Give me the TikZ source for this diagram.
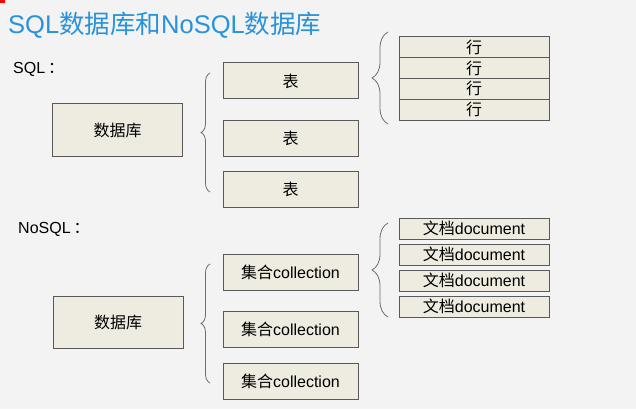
\documentclass[tikz,border=0pt]{standalone}
\usepackage{fontspec}
\setmainfont{Liberation Sans}
\newfontfamily\cjk{Noto Sans CJK SC}
\usepackage{tikz}
\usetikzlibrary{calc,decorations.pathreplacing}
\definecolor{titleblue}{RGB}{41,146,219}
\definecolor{boxfill}{RGB}{238,236,225}
\definecolor{boxline}{RGB}{89,89,89}
\definecolor{bracegray}{RGB}{110,110,110}
\definecolor{slidebg}{RGB}{243,243,243}
\tikzset{
	box/.style={draw=boxline, fill=boxfill, line width=1pt, inner sep=0pt, font=\fontsize{16}{18}\selectfont},
	dbbox/.style={box, minimum width=130pt, minimum height=52pt},
	tblbox/.style={box, minimum width=135pt, minimum height=36pt},
	rowbox/.style={box, minimum width=150pt, minimum height=20.75pt},
	docbox/.style={box, minimum width=150pt, minimum height=21pt},
	bracel/.style={draw=bracegray, line width=0.8pt, decorate, decoration={brace, amplitude=#1}},
	label/.style={anchor=base west, inner sep=0pt, font=\fontsize{16}{18}\selectfont}
}
\begin{document}
\begin{tikzpicture}[x=1pt, y=-1pt]
		\fill[slidebg] (0,0) rectangle (636,409);
		\useasboundingbox (0,0) rectangle (636,409);
		\fill[red] (0,0) rectangle (5,3);
		\node[anchor=base west, inner sep=0pt, text=titleblue, font=\fontsize{25.5}{30}\selectfont] (title) at (8,34) {SQL{\cjk 数据库和}NoSQL{\cjk 数据库}};
		% SQL
		\node[label] (sql) at (13,74) {SQL\hspace{3pt}{\cjk ：}};
		\node[dbbox] (db) at (117.5,130) {\cjk 数据库};
		\node[tblbox] (tbl1) at (290.5,81) {\cjk 表};
		\node[tblbox] (tbl2) at (290.5,138) {\cjk 表};
		\node[tblbox] (tbl3) at (290.5,189.5) {\cjk 表};
		\foreach \i in {1,...,4}
			\node[rowbox] (row\i) at (474,{37+20.75*(\i-0.5)}) {\cjk 行};
		\coordinate (b1s) at (210,192);
		\coordinate (b1n) at (210,73);
		\coordinate (b2s) at (388,124);
		\coordinate (b2n) at (388,32);
		\draw[bracel=9] (b1s) -- (b1n);
		\draw[bracel=16] (b2s) -- (b2n);
		% NoSQL
		\node[label] (nosql) at (18,233) {NoSQL\hspace{3pt}{\cjk ：}};
		\node[dbbox] (ndb) at (118,322) {\cjk 数据库};
		\node[tblbox] (coll1) at (290.5,272) {{\cjk 集合}collection};
		\node[tblbox] (coll2) at (290.5,329.5) {{\cjk 集合}collection};
		\node[tblbox] (coll3) at (290.5,381) {{\cjk 集合}collection};
		\foreach \i/\y in {1/228.5,2/254.5,3/280.5,4/306.5}
			\node[docbox] (doc\i) at (474,\y) {{\cjk 文档}document};
		\coordinate (b3s) at (210,383);
		\coordinate (b3n) at (210,264);
		\coordinate (b4s) at (388,317);
		\coordinate (b4n) at (388,223);
		\draw[bracel=9] (b3s) -- (b3n);
		\draw[bracel=16] (b4s) -- (b4n);
	\end{tikzpicture}
\end{document}
